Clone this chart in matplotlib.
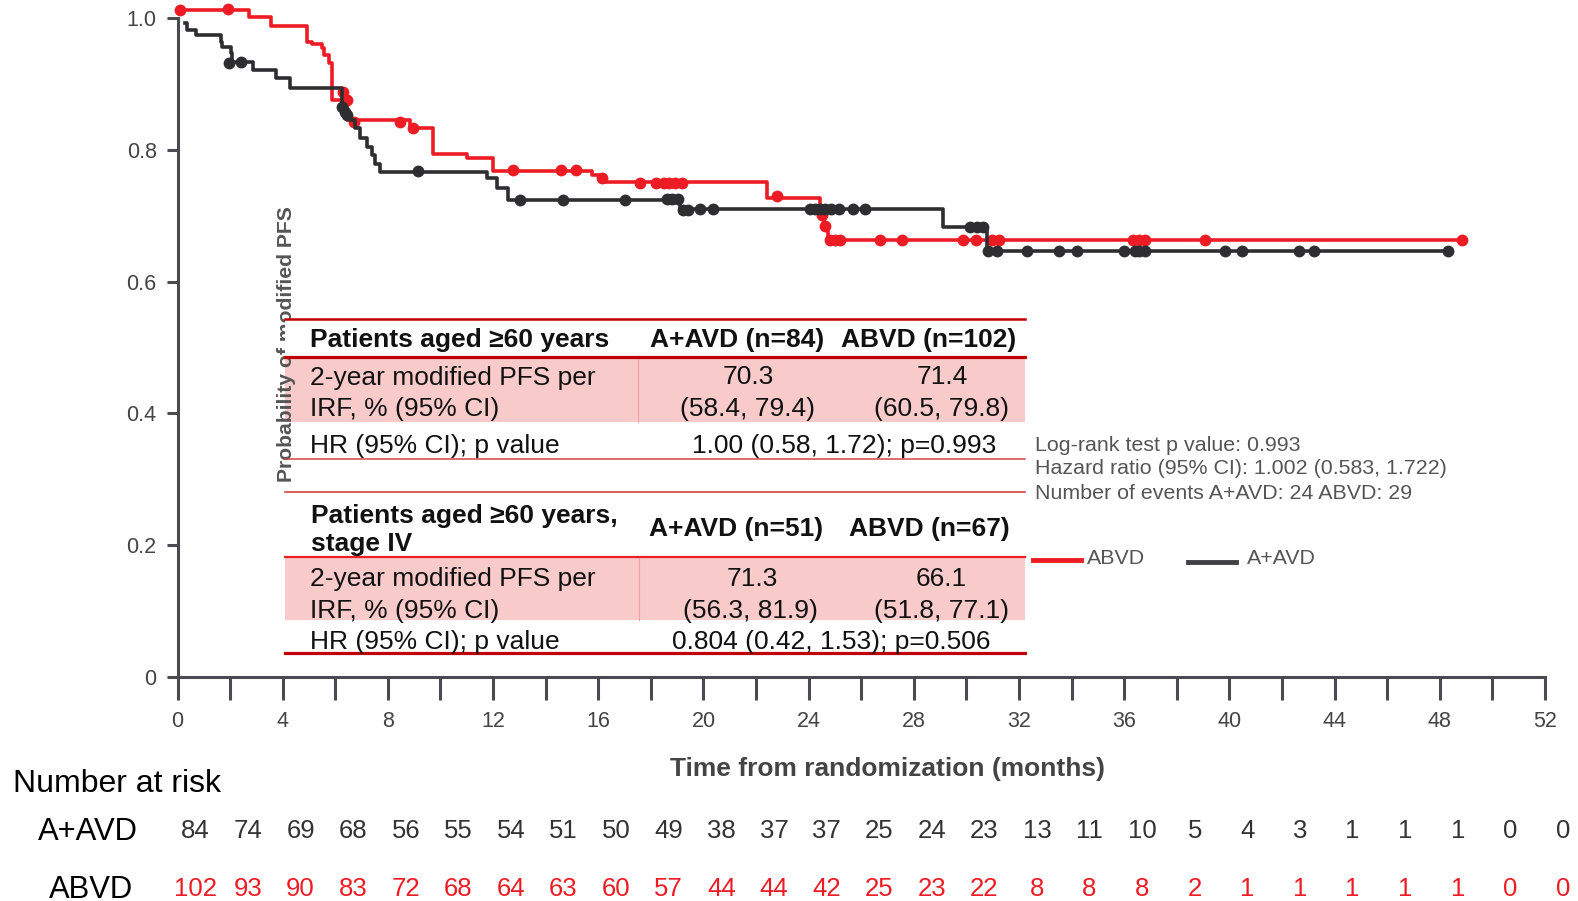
import numpy as np
import matplotlib
matplotlib.use("Agg")
import matplotlib.pyplot as plt
from matplotlib import transforms as mtransforms
from matplotlib.patches import Rectangle
from matplotlib.lines import Line2D

plt.rcParams['font.family'] = ['Liberation Sans', 'DejaVu Sans']

RED = '#ED1C24'
DARK = '#2E2E30'
AXIS = '#4A4A50'
GREY = '#555555'

# Kaplan-Meier steps (months, survival probability)
abvd_t = [0, 2.72, 3.56, 4.91, 5.10, 5.48, 5.57, 5.77, 5.89, 6.45, 8.84, 9.71,
          11.0, 12.0, 15.76, 16.1, 22.40, 24.45, 24.6, 24.72, 48.86]
abvd_s = [1.013, 1.002, 0.989, 0.965, 0.961, 0.955, 0.944, 0.932, 0.876, 0.846,
          0.833, 0.794, 0.788, 0.768, 0.762, 0.751, 0.728, 0.703, 0.684, 0.664, 0.664]

aavd_t = [0.28, 0.35, 0.70, 1.64, 1.70, 2.02, 2.08, 2.86, 3.75, 4.28, 6.24, 6.35,
          6.55, 6.75, 6.94, 7.19, 7.38, 7.51, 7.70, 11.76, 12.14, 12.58, 19.1,
          29.12, 30.77, 48.32]
aavd_s = [0.993, 0.982, 0.975, 0.965, 0.957, 0.947, 0.934, 0.922, 0.909, 0.895,
          0.870, 0.855, 0.845, 0.833, 0.818, 0.805, 0.792, 0.779, 0.767, 0.757,
          0.742, 0.724, 0.710, 0.683, 0.646, 0.646]

# censored observations
abvd_ct = [0.1, 1.93, 6.3, 6.45, 6.7, 8.46, 8.95, 12.76, 14.57, 15.14, 16.13,
           17.59, 18.2, 18.5, 18.7, 18.9, 19.2, 22.78, 24.49, 24.62, 24.81,
           25.0, 25.2, 26.71, 27.54, 29.87, 30.38, 30.96, 31.25, 36.35, 36.57,
           36.78, 39.07, 48.86]
abvd_cs = [1.013, 1.014, 0.888, 0.876, 0.843, 0.843, 0.834, 0.770, 0.770, 0.770,
           0.757, 0.750, 0.750, 0.750, 0.750, 0.750, 0.750, 0.731, 0.701, 0.684,
           0.664, 0.664, 0.664, 0.664, 0.664, 0.664, 0.664, 0.664, 0.664, 0.664,
           0.664, 0.664, 0.664, 0.664]

aavd_ct = [1.97, 2.40, 6.24, 6.37, 6.43, 9.16, 13.02, 14.67, 17.02, 18.6, 18.79,
           19.04, 19.23, 19.42, 19.87, 20.37, 24.05, 24.24, 24.43, 24.62, 24.85,
           25.15, 25.69, 26.16, 30.13, 30.39, 30.64, 30.82, 31.18, 32.32, 33.51,
           34.19, 35.98, 36.42, 36.57, 36.78, 39.84, 40.46, 42.65, 43.23, 48.32]
aavd_cs = [0.932, 0.934, 0.866, 0.858, 0.853, 0.769, 0.724, 0.724, 0.724, 0.726,
           0.726, 0.726, 0.709, 0.709, 0.710, 0.710, 0.710, 0.710, 0.710, 0.710,
           0.710, 0.710, 0.710, 0.710, 0.683, 0.683, 0.683, 0.646, 0.646, 0.646,
           0.646, 0.646, 0.646, 0.646, 0.646, 0.646, 0.646, 0.646, 0.646, 0.646,
           0.646]

# number at risk every 2 months
risk_times = list(range(0, 53, 2))
risk_aavd = [84, 74, 69, 68, 56, 55, 54, 51, 50, 49, 38, 37, 37, 25, 24, 23, 13,
             11, 10, 5, 4, 3, 1, 1, 1, 0, 0]
risk_abvd = [102, 93, 90, 83, 72, 68, 64, 63, 60, 57, 44, 44, 42, 25, 23, 22, 8,
             8, 8, 2, 1, 1, 1, 1, 1, 0, 0]

W, H = 1578, 901
fig = plt.figure(figsize=(W / 100, H / 100), dpi=100)
# pixel coordinates, origin at top-left
pxt = mtransforms.Affine2D().scale(1 / W, -1 / H).translate(0, 1) + fig.transFigure

x0, x1, y0 = 177.5, 1545.0, 676.7
ax = fig.add_axes([x0 / W, (H - y0) / H, (x1 - x0) / W, (y0 - 5.3) / H])
ax.set_xlim(0, 52)
ax.set_ylim(0, 1.02)

for sp in ['top', 'right']:
    ax.spines[sp].set_visible(False)
for sp in ['left', 'bottom']:
    ax.spines[sp].set_color(AXIS)
    ax.spines[sp].set_linewidth(2.2)
ax.spines['left'].set_bounds(0, 1)
ax.spines['bottom'].set_bounds(0, 52)

ax.set_xticks(range(0, 53, 4))
ax.set_xticks(range(0, 53, 2), minor=True)
ax.tick_params(axis='x', which='both', direction='out', length=16.5, width=2.2,
               color=AXIS, labelsize=15.5, labelcolor='#444444', pad=8)
ax.set_yticks([0, 0.2, 0.4, 0.6, 0.8, 1.0])
ax.set_yticklabels(['0', '0.2', '0.4', '0.6', '0.8', '1.0'])
ax.tick_params(axis='y', direction='out', length=8, width=2.2, color=AXIS,
               labelsize=15.5, labelcolor='#444444', pad=7)

# curves
ax.step(abvd_t, abvd_s, where='post', color=RED, lw=2.6, clip_on=False, zorder=3)
ax.plot(abvd_ct, abvd_cs, 'o', color=RED, ms=8.5, mew=0, clip_on=False, zorder=3)
ax.step(aavd_t, aavd_s, where='post', color=DARK, lw=2.6, clip_on=False, zorder=4)
ax.plot(aavd_ct, aavd_cs, 'o', color=DARK, ms=8.5, mew=0, clip_on=False, zorder=4)

# y label (partly covered by the table header)
ax.text(287, 344.5, 'Probability of modified PFS', transform=pxt, rotation=90,
        ha='center', va='center', fontsize=15.2, fontweight='bold', color=GREY,
        zorder=2, clip_on=False)

def hline(y, xa, xb, color, lw):
    ax.add_line(Line2D([xa, xb], [y, y], transform=pxt, color=color, lw=lw,
                       clip_on=False, zorder=6))

def vline(x, ya, yb, color, lw):
    ax.add_line(Line2D([x, x], [ya, yb], transform=pxt, color=color, lw=lw,
                       clip_on=False, zorder=6))

def box(xa, ya, xb, yb, color, z):
    ax.add_patch(Rectangle((xa, ya), xb - xa, yb - ya, transform=pxt, color=color,
                           lw=0, clip_on=False, zorder=z))

def tx(x, y, s, ha='left', bold=False, size=19, color='#111111'):
    ax.text(x, y, s, transform=pxt, ha=ha, va='center_baseline', fontsize=size,
            fontweight='bold' if bold else 'normal', color=color, zorder=7,
            clip_on=False)

TL, TR = 285, 1025
PINK = '#F9CACA'

# table 1
box(TL, 319, TR, 356.7, 'white', 3)
box(TL, 356.7, TR, 421.7, PINK, 1)
vline(638.5, 356.7, 421.7, '#F2A0A0', 0.8)
hline(319, TL, TR, '#C00000', 1.8)
hline(356.7, TL, TR, '#C00000', 2.3)
hline(459, TL, TR, '#D04545', 1.1)
hline(491.7, TL, TR, '#D03030', 1.1)
tx(310, 337.3, 'Patients aged ≥60 years', bold=True)
tx(736.7, 337.3, 'A+AVD (n=84)', ha='center', bold=True)
tx(929, 337.3, 'ABVD (n=102)', ha='center', bold=True)
tx(310, 375, '2-year modified PFS per')
tx(310, 406.7, 'IRF, % (95% CI)')
tx(748, 375, '70.3', ha='center')
tx(747.5, 406.7, '(58.4, 79.4)', ha='center')
tx(942, 375, '71.4', ha='center')
tx(942, 406.7, '(60.5, 79.8)', ha='center')
tx(310, 443.3, 'HR (95% CI); p value')
tx(844, 443.3, '1.00 (0.58, 1.72); p=0.993', ha='center')

# table 2
box(TL, 556.7, TR, 620, PINK, 1)
vline(638.6, 556.7, 620, '#F2A0A0', 0.8)
hline(556.7, TL, TR, '#E8202A', 1.6)
hline(653.3, TL, TR, '#C00000', 2.3)
tx(311, 513.3, 'Patients aged ≥60 years,', bold=True)
tx(311, 541.7, 'stage IV', bold=True)
tx(735.6, 526.7, 'A+AVD (n=51)', ha='center', bold=True)
tx(929.6, 526.7, 'ABVD (n=67)', ha='center', bold=True)
tx(310, 576.7, '2-year modified PFS per')
tx(310, 608.3, 'IRF, % (95% CI)')
tx(752, 576.7, '71.3', ha='center')
tx(750, 608.3, '(56.3, 81.9)', ha='center')
tx(941, 576.7, '66.1', ha='center')
tx(942, 608.3, '(51.8, 77.1)', ha='center')
tx(310, 640, 'HR (95% CI); p value')
tx(831, 640, '0.804 (0.42, 1.53); p=0.506', ha='center')

# statistics
tx(1035, 443.3, 'Log-rank test p value: 0.993', size=15.4, color=GREY)
tx(1035, 466.7, 'Hazard ratio (95% CI): 1.002 (0.583, 1.722)', size=15.4, color=GREY)
tx(1035, 491.7, 'Number of events A+AVD: 24 ABVD: 29', size=15.4, color=GREY)

# legend
hline(560, 1033, 1081, RED, 3.5)
tx(1087, 557, 'ABVD', size=15.4, color=GREY)
hline(561.7, 1188, 1236, '#404045', 3.5)
tx(1247, 557, 'A+AVD', size=15.4, color=GREY)

# x label
fig.text(887 / W, 1 - 766.7 / H, 'Time from randomization (months)', ha='center',
         va='center_baseline', fontsize=19, fontweight='bold', color='#444444')

# number at risk table
rt = mtransforms.blended_transform_factory(ax.transData, pxt)
ax.text(12.8, 780, 'Number at risk', transform=pxt, ha='left', va='center_baseline',
        fontsize=23, color='black', clip_on=False)
ax.text(38.3, 828.3, 'A+AVD', transform=pxt, ha='left', va='center_baseline',
        fontsize=22.3, color='black', clip_on=False)
ax.text(48.5, 886.7, 'ABVD', transform=pxt, ha='left', va='center_baseline',
        fontsize=22.3, color='black', clip_on=False)
for t, a, b in zip(risk_times, risk_aavd, risk_abvd):
    ax.text(t + 0.68, 828.3, str(a), transform=rt, ha='center', va='center_baseline',
            fontsize=18.5, color='#333333', clip_on=False)
    ax.text(t + 0.68, 886.7, str(b), transform=rt, ha='center', va='center_baseline',
            fontsize=18.5, color=RED, clip_on=False)

fig.savefig('out.png', dpi=100)
